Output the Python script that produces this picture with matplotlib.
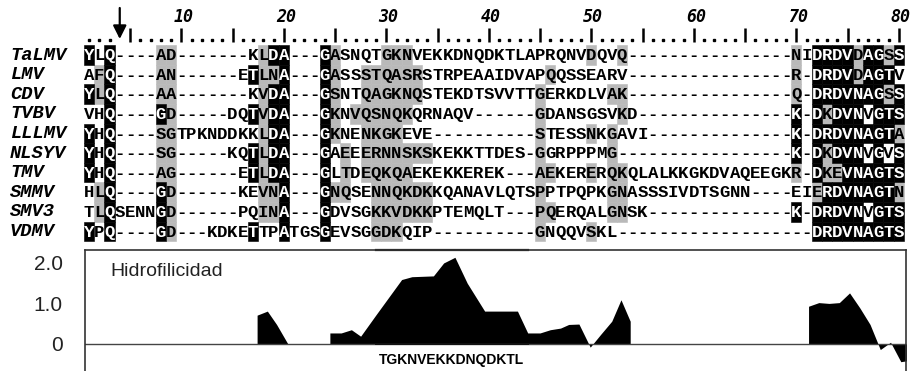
import numpy as np
import matplotlib
matplotlib.use("Agg")
import matplotlib.pyplot as plt

# alignment rows (80 columns each)
names = ["TaLMV", "LMV", "CDV", "TVBV", "LLLMV", "NLSYV", "TMV", "SMMV", "SMV3", "VDMV"]
seqs = [
    "YLQ----AD" + "-" * 7 + "KLDA---GASNQTGKNVEKKDNQDKTLAPRQNVDQVQ" + "-" * 16 + "NIDRDVDAGSS",
    "AFQ----AN" + "-" * 6 + "ETLNA---GASSSTQASRSTRPEAAIDVAPQQSSEARV" + "-" * 16 + "R-DRDVDAGTV",
    "YLQ----AA" + "-" * 7 + "KVDA---GSNTQAGKNQSTEKDTSVVTTGERKDLVAK" + "-" * 16 + "Q-DRDVNAGSS",
    "VHQ----GD" + "-" * 5 + "DQTVDA---GKNVQSNQKQRNAQV" + "-" * 6 + "GDANSGSVKD" + "-" * 15 + "K-DKDVNVGTS",
    "YHQ----SGTPKNDDKKLDA---GKNENKGKEVE" + "-" * 10 + "STESSNKGAVI" + "-" * 14 + "K-DRDVNAGTA",
    "YHQ----SG" + "-" * 5 + "KQTLDA---GAEEERNNSKSKEKKTTDES-GGRPPPMG" + "-" * 17 + "K-DKDVNVGVS",
    "YHQ----AG" + "-" * 6 + "ETLDA---GLTDEQKQAEKEKKEREK---AEKERERQKQLALKKGKDVAQEEGKR-DKEVNAGTS",
    "HLQ----GD" + "-" * 6 + "KEVNA---GNQSENNQKDKKQANAVLQTSPPTPQPKGNASSSIVDTSGNN----EIERDVNAGTN",
    "TLQSENNGD" + "-" * 6 + "PQINA---GDVSGKKVDKKPTEMQLT---PQERQALGNSK" + "-" * 14 + "K-DRDVNVGTS",
    "YPQ----GD---KDKETTPATGSGEVSGGDKQIP" + "-" * 10 + "GNQQVSKL" + "-" * 19 + "DRDVNAGTS",
]

# shaded columns per row (1-based)
black_cols = [
    [1, 3, 19, 20, 24, 72, 73, 74, 75, 77, 78, 80],
    [3, 17, 20, 24, 72, 73, 74, 75, 77, 78, 79],
    [1, 3, 19, 20, 24, 72, 73, 74, 75, 76, 77, 78, 80],
    [3, 8, 17, 19, 20, 24, 70, 72, 74, 75, 76, 78, 79, 80],
    [1, 3, 19, 20, 24, 70, 72, 73, 74, 75, 76, 77, 78, 79],
    [1, 3, 17, 19, 20, 24, 70, 72, 74, 75, 76, 78, 80],
    [1, 3, 17, 19, 20, 24, 72, 75, 76, 77, 78, 79, 80],
    [3, 8, 20, 24, 73, 74, 75, 76, 77, 78, 79],
    [3, 8, 20, 24, 70, 72, 73, 74, 75, 76, 78, 79, 80],
    [1, 3, 8, 17, 20, 24, 72, 73, 74, 75, 76, 77, 78, 79, 80],
]
gray_cols = [
    [8, 9, 18, 25, 30, 31, 32, 50, 53, 70, 76, 79],
    [2, 8, 9, 18, 19, 25, 28, 29, 30, 31, 32, 33, 46, 70, 76],
    [2, 8, 9, 18, 25, 28, 29, 30, 31, 32, 33, 45, 52, 53, 70, 79],
    [9, 18, 25, 27, 28, 29, 30, 31, 32, 45, 53, 73],
    [8, 9, 18, 25, 28, 29, 30, 31, 45, 50, 52, 80],
    [8, 9, 18, 26, 28, 29, 30, 31, 32, 33, 34, 45, 52, 73],
    [8, 9, 18, 26, 28, 29, 30, 31, 32, 45, 46, 50, 52, 53, 70, 73, 74],
    [2, 9, 18, 19, 25, 26, 29, 30, 31, 32, 33, 34, 45, 52, 53, 72, 80],
    [2, 9, 18, 19, 29, 30, 31, 32, 33, 34, 45, 46, 52, 53],
    [9, 29, 30, 31, 45, 50],
]

ruler_labels = [10, 20, 30, 40, 50, 60, 70, 80]
arrow_col = 4

# hydrophilicity profile (alignment position, value)
hydro_pos = [17.4, 17.4, 18.4, 19.3, 20.4,
             24.5, 24.5, 25.6, 26.6, 27.5, 29.0, 31.5, 32.5, 34.6, 35.6, 36.7, 37.9,
             39.6, 42.8, 43.8, 45.0, 46.0, 47.0, 47.8, 48.8, 49.9, 50.9, 52.0, 52.9,
             53.8, 53.8,
             71.2, 71.2, 72.2, 73.2, 74.2, 75.2, 76.2, 77.2, 78.2, 79.2, 80.2, 81.0]
hydro_val = [0, 0.71, 0.81, 0.48, 0,
             0, 0.27, 0.27, 0.35, 0.19, 0.72, 1.59, 1.66, 1.68, 2.0, 2.14, 1.5,
             0.81, 0.81, 0.27, 0.27, 0.35, 0.39, 0.48, 0.49, -0.08, 0.23, 0.56, 1.09,
             0.56, 0,
             0, 0.93, 1.02, 1.0, 1.02, 1.26, 0.89, 0.48, -0.14, 0.04, -0.44, -0.41]
peptide = "TGKNVEKKDNQDKTL"
peptide_span = (29.0, 43.8)

W, H = 911, 371
X0, DX = 89.0, 10.25   # pixel centre of column 1, column width
Y0, DY = 55.0, 19.6    # pixel centre of row 0, row height
GRAY = "#b9b9b9"


def py(p):
    return (p - Y0) / DY


def px(p):
    return 1 + (p - X0) / DX


fig = plt.figure(figsize=(W / 100, H / 100), dpi=100)
ax = fig.add_axes([0, 0, 1, 1])
ax.set_xlim(px(0), px(W))
ax.set_ylim(py(H), py(0))
ax.axis("off")

mono = "Liberation Mono"
for r, (name, seq) in enumerate(zip(names, seqs)):
    assert len(seq) == 80, (name, len(seq))
    ax.bar(gray_cols[r], 1.0, bottom=r - 0.5, width=1.0, color=GRAY,
           edgecolor=GRAY, linewidth=0.4, zorder=1)
    ax.bar(black_cols[r], 1.0, bottom=r - 0.5, width=1.0, color="black",
           edgecolor="black", linewidth=0.4, zorder=2)
    ax.text(px(10), r, name, ha="left", va="center", fontsize=13.5,
            family=mono, weight="bold", style="italic")
    for c, ch in enumerate(seq, start=1):
        tc = "white" if c in black_cols[r] else "black"
        ax.text(c, r + 0.04, ch, ha="center", va="center", fontsize=12.5,
                family=mono, weight="bold", color=tc, zorder=3)

# ruler
cols = np.arange(1, 81)
dots = [c for c in cols if c % 5 and c != arrow_col]
ticks = [c for c in cols if c % 5 == 0]
ax.plot(dots, [py(40)] * len(dots), "s", ms=1.8, color="black")
ax.vlines(ticks, py(28), py(42), color="black", lw=1.8)
for c in ruler_labels:
    ax.text(c + 0.2, py(17), str(c), ha="center", va="center", fontsize=12,
            family="DejaVu Sans Mono", weight="bold", style="italic")
ax.annotate("", xy=(arrow_col, py(39)), xytext=(arrow_col, py(8)),
            arrowprops=dict(arrowstyle="-|>", lw=1.6, color="black",
                            mutation_scale=20, shrinkA=0, shrinkB=0))

# hydrophilicity panel
bx = fig.add_axes([85 / W, 0, (906 - 85) / W, 121 / H])
bx.set_xlim(px(85), px(906))
bx.set_ylim(-0.67, 2.32)
bx.fill_between(hydro_pos, 0, hydro_val, color="black", lw=0)
bx.axhline(0, color="#444444", lw=1)
bx.plot(peptide_span, [2.32, 2.32], color="#111111", lw=1.6, clip_on=False)
bx.plot(peptide_span, [0, 0], color="#111111", lw=1.4)
for s in ["top", "left", "right"]:
    bx.spines[s].set_color("#333333")
    bx.spines[s].set_linewidth(1.2)
bx.spines["bottom"].set_visible(False)
bx.set_xticks([])
bx.set_yticks([0, 1, 2], ["0", "1.0", "2.0"])
bx.tick_params(axis="y", length=0, pad=16, labelsize=15, labelcolor="#222222")
for t in bx.get_yticklabels():
    t.set_family("Liberation Sans")
bx.text(px(110), 1.8, "Hidrofilicidad", ha="left", va="center", fontsize=14,
        family="Liberation Sans", color="#222222")
bx.text(np.mean(peptide_span), -0.40, peptide, ha="center", va="center",
        fontsize=10, family="Liberation Sans", weight="bold")

fig.savefig("out.png", dpi=100)
